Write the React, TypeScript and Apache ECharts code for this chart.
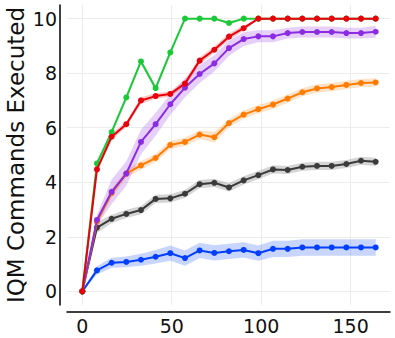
import React, { useEffect, useRef } from "react";
import * as echarts from "echarts";

const steps = [0, 8.2, 16.4, 24.6, 32.8, 41, 49.2, 57.4, 65.6, 73.8, 82, 90.2, 98.4, 106.6, 114.8, 123, 131.2, 139.4, 147.6, 155.8, 164];

const blueY = [0, 0.77, 1.05, 1.08, 1.16, 1.27, 1.40, 1.22, 1.50, 1.41, 1.47, 1.52, 1.40, 1.56, 1.56, 1.61, 1.61, 1.61, 1.61, 1.61, 1.61];
const blueS = [0, 0.15, 0.18, 0.2, 0.22, 0.25, 0.28, 0.28, 0.28, 0.28, 0.28, 0.28, 0.28, 0.3, 0.3, 0.3, 0.3, 0.3, 0.3, 0.3, 0.3];

const blackY = [0, 2.34, 2.66, 2.84, 2.98, 3.39, 3.41, 3.58, 3.93, 3.98, 3.81, 4.07, 4.26, 4.47, 4.45, 4.57, 4.60, 4.60, 4.67, 4.79, 4.75];
const blackS = [0, 0.2, 0.15, 0.15, 0.15, 0.15, 0.15, 0.15, 0.15, 0.15, 0.15, 0.15, 0.15, 0.15, 0.15, 0.15, 0.15, 0.15, 0.15, 0.15, 0.15];

const orangeY = [0, 2.55, 3.6, 4.32, 4.62, 4.89, 5.37, 5.48, 5.75, 5.65, 6.17, 6.48, 6.68, 6.85, 7.07, 7.30, 7.44, 7.49, 7.57, 7.64, 7.66];
const orangeS = [0, 0.15, 0.15, 0.15, 0.15, 0.15, 0.15, 0.15, 0.15, 0.2, 0.15, 0.15, 0.15, 0.15, 0.15, 0.15, 0.15, 0.15, 0.15, 0.15, 0.15];

const purpleY = [0, 2.62, 3.65, 4.32, 5.48, 6.13, 6.86, 7.47, 7.97, 8.36, 8.92, 9.25, 9.35, 9.35, 9.47, 9.51, 9.51, 9.51, 9.47, 9.47, 9.52];
const purpleS = [0, 0.2, 0.45, 0.45, 0.45, 0.42, 0.38, 0.35, 0.33, 0.3, 0.28, 0.25, 0.22, 0.22, 0.2, 0.2, 0.2, 0.2, 0.2, 0.2, 0.22];

const greenY = [0, 4.69, 5.84, 7.11, 8.43, 7.45, 8.76, 10, 10, 10, 9.84, 10, 10, 10, 10, 10, 10, 10, 10, 10, 10];
const greenS = [0, 0.12, 0.1, 0.08, 0.08, 0.1, 0.08, 0, 0, 0, 0.08, 0, 0, 0, 0, 0, 0, 0, 0, 0, 0];

const redY = [0, 4.47, 5.67, 6.13, 7.0, 7.16, 7.24, 7.62, 8.46, 8.86, 9.34, 9.65, 10, 10, 10, 10, 10, 10, 10, 10, 10];
const redS = [0, 0.1, 0.12, 0.1, 0.12, 0.1, 0.1, 0.12, 0.12, 0.12, 0.12, 0.1, 0, 0, 0, 0, 0, 0, 0, 0, 0];

const xTicks = [0, 50, 100, 150];
const yTicks = [0, 2, 4, 6, 8, 10];
const yTitle = "IQM Commands Executed";

const seriesDefs = [
  { name: "blue", color: "#023eff", y: blueY, s: blueS },
  { name: "black", color: "#3a3a3a", y: blackY, s: blackS },
  { name: "orange", color: "#ff7c00", y: orangeY, s: orangeS },
  { name: "purple", color: "#8b2be2", y: purpleY, s: purpleS },
  { name: "green", color: "#1ac938", y: greenY, s: greenS },
  { name: "red", color: "#e8000b", y: redY, s: redS },
];

export default function App() {
  const ref = useRef<HTMLDivElement>(null);
  useEffect(() => {
    if (!ref.current) return;
    const chart = echarts.init(ref.current, undefined, { renderer: "svg" });
    const font = "DejaVu Sans";
    const bands = seriesDefs.map((d) => ({
      type: "custom",
      name: d.name + "-band",
      silent: true,
      z: 1,
      data: steps.map((x, i) => [x, d.y[i]]),
      renderItem: (params: any, api: any) => {
        if (params.dataIndex !== 0) return null;
        const upper = steps.map((x, i) => api.coord([x, d.y[i] + d.s[i]]));
        const lower = steps.map((x, i) => api.coord([x, d.y[i] - d.s[i]])).reverse();
        return {
          type: "polygon",
          shape: { points: upper.concat(lower) },
          style: { fill: d.color, opacity: 0.22 },
        };
      },
    }));
    const lines = seriesDefs.map((d, k) => ({
      type: "line",
      name: d.name,
      z: 3 + k,
      data: steps.map((x, i) => [x, d.y[i]]),
      symbol: "circle",
      symbolSize: 6,
      showSymbol: true,
      lineStyle: { color: d.color, width: 2 },
      itemStyle: { color: d.color },
    }));
    chart.setOption({
      animation: false,
      grid: { left: 67, right: 5, top: 5, bottom: 33, containLabel: false, outerBoundsMode: "none" },
      xAxis: {
        type: "value",
        min: -8.55,
        max: 172,
        offset: 7,
        axisLine: { show: true, onZero: false, lineStyle: { color: "#000", width: 1.5 } },
        axisTick: { show: false, customValues: xTicks },
        axisLabel: { customValues: xTicks, fontSize: 19, fontFamily: font, color: "#111", margin: 4 },
        splitLine: { show: true, lineStyle: { color: "#ececec", width: 1 } },
      },
      yAxis: {
        type: "value",
        min: -0.5,
        max: 10.5,
        offset: 7,
        name: yTitle,
        nameLocation: "middle",
        nameGap: 33,
        nameMoveOverlap: false,
        nameTextStyle: { fontSize: 23, fontFamily: font, color: "#111" },
        axisLine: { show: true, onZero: false, lineStyle: { color: "#000", width: 1.5 } },
        axisTick: { show: false, customValues: yTicks },
        axisLabel: { customValues: yTicks, fontSize: 19, fontFamily: font, color: "#111", margin: 3 },
        splitLine: { show: true, lineStyle: { color: "#ececec", width: 1 } },
      },
      series: [...bands, ...lines],
    });
    return () => chart.dispose();
  }, []);
  return <div ref={ref} style={{ width: 395, height: 338, position: "absolute", left: 0, top: 0 }} />;
}
